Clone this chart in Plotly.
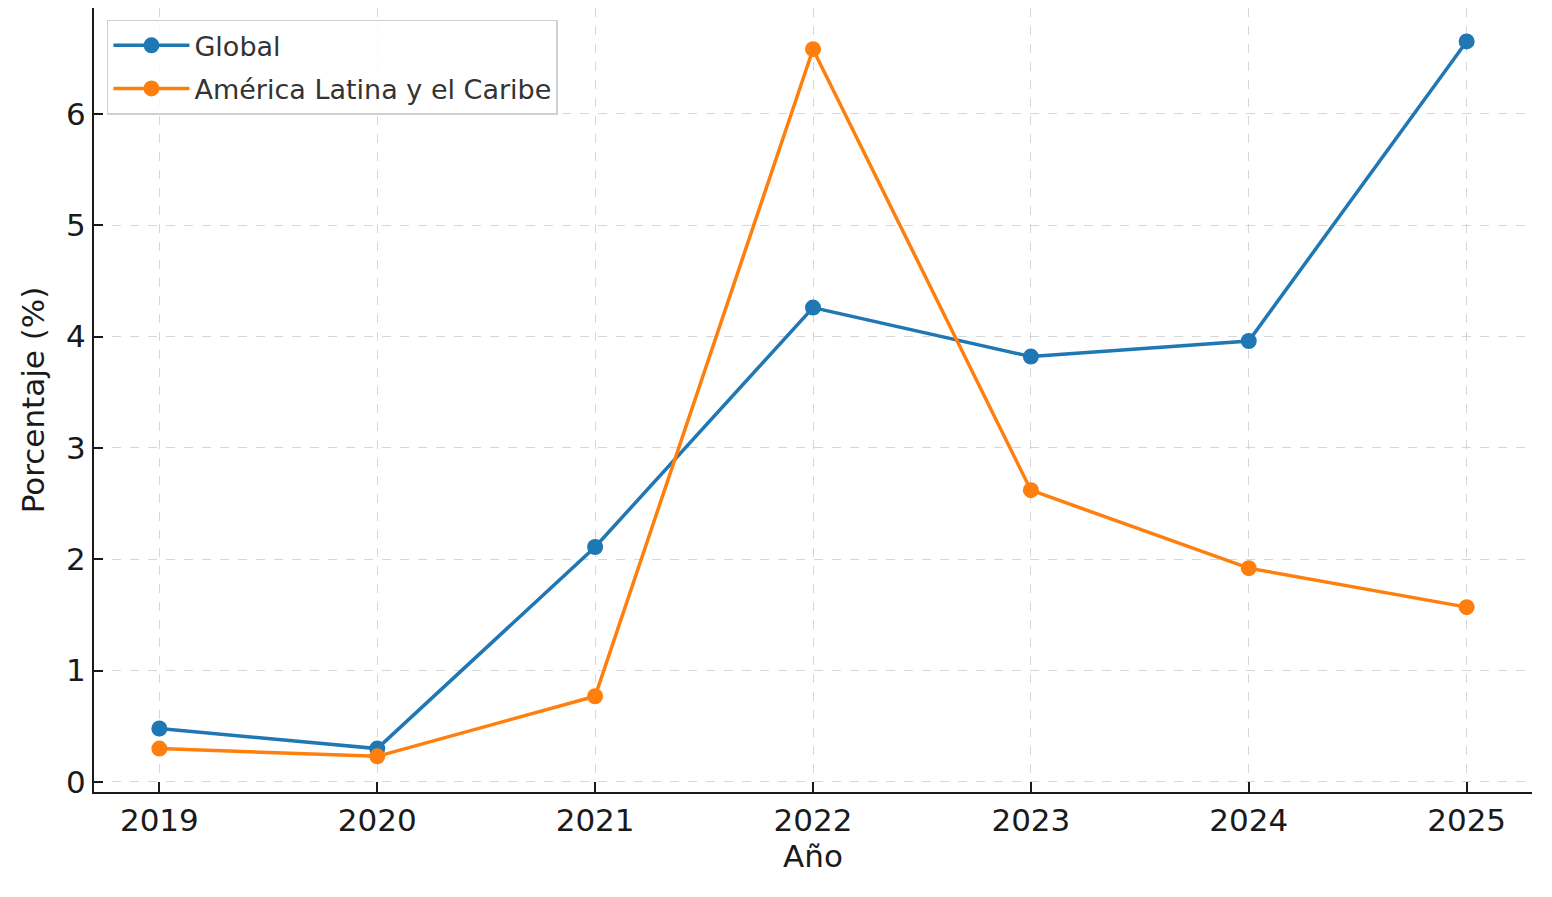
import plotly.graph_objects as go

years = [2019, 2020, 2021, 2022, 2023, 2024, 2025]
global_vals = [0.48, 0.30, 2.11, 4.26, 3.82, 3.96, 6.65]
latam_vals = [0.30, 0.23, 0.77, 6.58, 2.62, 1.92, 1.57]
y_ticks = [0, 1, 2, 3, 4, 5, 6]

fig = go.Figure()
fig.add_trace(go.Scatter(x=years, y=global_vals, mode="lines+markers", name="Global",
                         legendgroup="g1",
                         line=dict(color="#1f77b4", width=3.5),
                         marker=dict(size=16, color="#1f77b4")))
fig.add_trace(go.Scatter(x=years, y=latam_vals, mode="lines+markers", name="América Latina y el Caribe",
                         legendgroup="g2",
                         line=dict(color="#ff7f0e", width=3.5),
                         marker=dict(size=16, color="#ff7f0e")))

grid = dict(showgrid=True, gridcolor="rgba(176,176,176,0.5)", griddash="dash", gridwidth=1)
fig.update_layout(
    width=1544, height=889,
    plot_bgcolor="white", paper_bgcolor="white",
    font=dict(family="DejaVu Sans", color="#1a1a1a", size=31),
    margin=dict(l=86, r=20, t=0, b=105),
    showlegend=True,
    legend=dict(x=0.009, y=0.985, xanchor="left", yanchor="top",
                bgcolor="rgba(255,255,255,0.8)", bordercolor="#d0d0d0", borderwidth=1.5,
                font=dict(size=27, color="#333333"), itemwidth=76, tracegroupgap=5),
    xaxis=dict(title=dict(text="Año", font=dict(size=31), standoff=6),
               range=[2018.70, 2025.30], tickvals=years, ticktext=[str(y) for y in years],
               showline=True, linecolor="#1a1a1a", linewidth=2, ticks="inside",
               ticklen=10, tickwidth=1.5, tickcolor="#1a1a1a", zeroline=False, **grid),
    yaxis=dict(title=dict(text="Porcentaje (%)", font=dict(size=31), standoff=12),
               range=[-0.09, 6.95], tickvals=y_ticks, ticktext=[str(v) for v in y_ticks],
               showline=True, linecolor="#1a1a1a", linewidth=2, ticks="inside",
               ticklen=9, tickwidth=1.5, tickcolor="#1a1a1a", zeroline=False, **grid),
)
fig.write_html("out.html")
